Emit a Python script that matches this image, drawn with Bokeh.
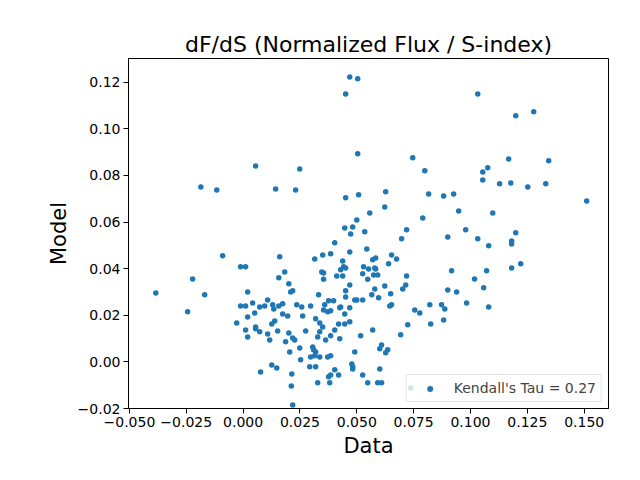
from bokeh.plotting import figure
from bokeh.models import Range1d, FixedTicker, Legend, LegendItem
from bokeh.embed import file_html
from bokeh.resources import INLINE

title_text = "dF/dS (Normalized Flux / S-index)"
x_label = "Data"
y_label = "Model"
legend_label = "Kendall's Tau = 0.27"

data_x = [
    0.0055, -0.0186, -0.0116, -0.0090, -0.0011, 0.0011, -0.0222, -0.0384, -0.0169, -0.0244,
    0.0020, -0.0011, 0.0011, 0.0042, 0.0108, 0.0095, 0.0073, 0.0051, 0.0020, -0.0028,
    0.0011, 0.0055, 0.0055, 0.0073, 0.0108, 0.0020, 0.0117, 0.0077, 0.0126, 0.0126,
    0.0504, 0.0249, 0.0143, 0.0231, 0.0451, 0.0508, 0.0557, 0.0500, 0.0447, 0.0482,
    0.0473, 0.0535, 0.0403, 0.0544, 0.0469, 0.0161, 0.0315, 0.0350, 0.0385, 0.0438,
    0.0583, 0.0570, 0.0183, 0.0157, 0.0346, 0.0354, 0.0442, 0.0451, 0.0429, 0.0530,
    0.0552, 0.0579, 0.0583, 0.0412, 0.0438, 0.0526, 0.0574, 0.0592, 0.0354, 0.0548,
    0.0201, 0.0218, 0.0209, 0.0469, 0.0451, 0.0332, 0.0451, 0.0566, 0.0579, 0.0130,
    0.0135, 0.0157, 0.0174, 0.0236, 0.0258, 0.0297, 0.0359, 0.0376, 0.0398, 0.0354,
    0.0372, 0.0385, 0.0429, 0.0425, 0.0469, 0.0491, 0.0500, 0.0526, 0.0174, 0.0196,
    0.0262, 0.0319, 0.0337, 0.0350, 0.0447, 0.0420, 0.0447, 0.0469, 0.0139, 0.0152,
    0.0201, 0.0218, 0.0227, 0.0187, 0.0275, 0.0337, 0.0328, 0.0403, 0.0385, 0.0363,
    0.0425, 0.0517, 0.0570, 0.0601, 0.0205, 0.0249, 0.0306, 0.0310, 0.0319, 0.0297,
    0.0315, 0.0337, 0.0372, 0.0385, 0.0253, 0.0491, 0.0148, 0.0214, 0.0212, 0.0218,
    0.0293, 0.0319, 0.0403, 0.0376, 0.0385, 0.0420, 0.0328, 0.0381, 0.0478, 0.0482,
    0.0482, 0.0526, 0.0548, 0.0592, 0.0601, 0.0469, 0.0504, 0.0451, 0.1032, 0.0746,
    0.0799, 0.1076, 0.1054, 0.1054, 0.0627, 0.0816, 0.0882, 0.0926, 0.0623, 0.0948,
    0.1098, 0.0790, 0.0719, 0.0697, 0.0979, 0.0900, 0.1032, 0.1080, 0.0653, 0.0675,
    0.0640, 0.0719, 0.0917, 0.1071, 0.1018, 0.0623, 0.0596, 0.0649, 0.0702, 0.0715,
    0.0900, 0.0939, 0.1058, 0.0645, 0.0653, 0.0755, 0.0777, 0.0821, 0.0873, 0.0887,
    0.0983, 0.1080, 0.0724, 0.0825, 0.0882, 0.0693, 0.0609, 0.0636, 0.0627, 0.0609,
    0.0737, 0.1199, 0.1278, 0.1168, 0.1344, 0.1128, 0.1177, 0.1252, 0.1331, 0.1511,
    0.1199, 0.1181, 0.1181, 0.1221, 0.1181,
]

model_y = [
    0.0841, 0.0751, 0.0738, 0.0455, 0.0408, 0.0408, 0.0356, 0.0296, 0.0288, 0.0215,
    0.0300, 0.0240, 0.0240, 0.0253, 0.0266, 0.0240, 0.0236, 0.0210, 0.0193, 0.0167,
    0.0137, 0.0150, 0.0142, 0.0129, 0.0120, 0.0107, 0.0094, -0.0043, 0.0163, -0.0013,
    0.0893, 0.0828, 0.0742, 0.0738, 0.0704, 0.0717, 0.0639, 0.0609, 0.0575, 0.0579,
    0.0549, 0.0558, 0.0511, 0.0485, 0.0472, 0.0451, 0.0442, 0.0459, 0.0464, 0.0433,
    0.0446, 0.0438, 0.0386, 0.0361, 0.0386, 0.0382, 0.0408, 0.0403, 0.0395, 0.0408,
    0.0399, 0.0403, 0.0399, 0.0369, 0.0369, 0.0378, 0.0373, 0.0373, 0.0355, 0.0355,
    0.0335, 0.0305, 0.0300, 0.0330, 0.0305, 0.0288, 0.0279, 0.0288, 0.0313, 0.0245,
    0.0227, 0.0240, 0.0249, 0.0245, 0.0236, 0.0240, 0.0245, 0.0262, 0.0262, 0.0223,
    0.0215, 0.0219, 0.0236, 0.0232, 0.0232, 0.0266, 0.0266, 0.0266, 0.0206, 0.0197,
    0.0197, 0.0185, 0.0167, 0.0150, 0.0206, 0.0163, 0.0163, 0.0172, 0.0176, 0.0133,
    0.0124, 0.0103, 0.0094, 0.0086, 0.0133, 0.0129, 0.0107, 0.0137, 0.0112, 0.0094,
    0.0099, 0.0112, 0.0137, 0.0056, 0.0043, 0.0060, 0.0064, 0.0052, 0.0043, 0.0021,
    0.0026, 0.0021, 0.0021, 0.0026, 0.0009, 0.0043, -0.0026, -0.0052, -0.0103, -0.0185,
    -0.0021, -0.0021, -0.0034, -0.0064, -0.0056, -0.0056, -0.0090, -0.0090, -0.0009, -0.0021,
    -0.0030, -0.0056, -0.0090, -0.0090, -0.0030, 0.1223, 0.1215, 0.1150, 0.1150, 0.0876,
    0.0820, 0.0833, 0.0815, 0.0781, 0.0730, 0.0721, 0.0712, 0.0721, 0.0665, 0.0648,
    0.0639, 0.0618, 0.0567, 0.0528, 0.0567, 0.0536, 0.0528, 0.0498, 0.0459, 0.0442,
    0.0421, 0.0369, 0.0391, 0.0391, 0.0356, 0.0326, 0.0275, 0.0292, 0.0313, 0.0330,
    0.0309, 0.0300, 0.0318, 0.0240, 0.0245, 0.0223, 0.0210, 0.0245, 0.0245, 0.0227,
    0.0253, 0.0236, 0.0159, 0.0163, 0.0180, 0.0116, 0.0073, 0.0052, 0.0039, -0.0090,
    -0.0112, 0.1056, 0.1073, 0.0871, 0.0863, 0.0764, 0.0768, 0.0751, 0.0764, 0.0691,
    0.0554, 0.0519, 0.0506, 0.0421, 0.0403,
]

x_ticks = [-0.05, -0.025, 0.0, 0.025, 0.05, 0.075, 0.1, 0.125, 0.15]
x_tick_labels = ["\u22120.050", "\u22120.025", "0.000", "0.025", "0.050", "0.075", "0.100", "0.125", "0.150"]
y_ticks = [-0.02, 0.0, 0.02, 0.04, 0.06, 0.08, 0.1, 0.12]
y_tick_labels = ["\u22120.02", "0.00", "0.02", "0.04", "0.06", "0.08", "0.10", "0.12"]

FONT = "DejaVu Sans"

p = figure(width=632, height=472, output_backend="svg", toolbar_location=None,
           x_range=Range1d(-0.0504, 0.1607), y_range=Range1d(-0.0200, 0.1302),
           min_border_left=128, min_border_right=24, min_border_top=58, min_border_bottom=64)

p.title.text = title_text
p.title.align = "center"
p.title.text_font = FONT
p.title.text_font_size = "22px"
p.title.text_font_style = "normal"
p.title.text_color = "black"
p.title.standoff = 4

p.outline_line_color = "black"
p.outline_line_alpha = 1.0
p.outline_line_width = 1
p.xgrid.grid_line_color = None
p.ygrid.grid_line_color = None

r = p.scatter(data_x, model_y, size=5.5, fill_color="#1f77b4", line_color=None)

p.xaxis.axis_label = x_label
p.yaxis.axis_label = y_label
p.xaxis.ticker = FixedTicker(ticks=x_ticks)
p.yaxis.ticker = FixedTicker(ticks=y_ticks)
p.xaxis.major_label_overrides = dict(zip(x_ticks, x_tick_labels))
p.yaxis.major_label_overrides = dict(zip(y_ticks, y_tick_labels))
for ax in (p.xaxis[0], p.yaxis[0]):
    ax.axis_label_text_font = FONT
    ax.axis_label_text_font_size = "21px"
    ax.axis_label_text_font_style = "normal"
    ax.axis_label_text_color = "black"
    ax.major_label_text_font = FONT
    ax.major_label_text_font_size = "14px"
    ax.major_label_text_color = "black"
    ax.major_tick_out = 5
    ax.major_tick_in = 0
    ax.minor_tick_line_color = None
    ax.axis_line_color = "black"
    ax.major_tick_line_color = "black"
    ax.major_label_standoff = 3
    ax.axis_label_standoff = 4

legend = Legend(items=[LegendItem(label=legend_label, renderers=[r])], location="bottom_right")
legend.margin = 6
legend.padding = 5
legend.glyph_width = 36
legend.glyph_height = 15
legend.label_height = 15
legend.label_standoff = 6
legend.label_text_font = FONT
legend.label_text_font_size = "14px"
legend.border_line_color = "#cccccc"
legend.background_fill_alpha = 0.8
p.add_layout(legend)

open("out.html", "w").write(file_html(p, INLINE))
